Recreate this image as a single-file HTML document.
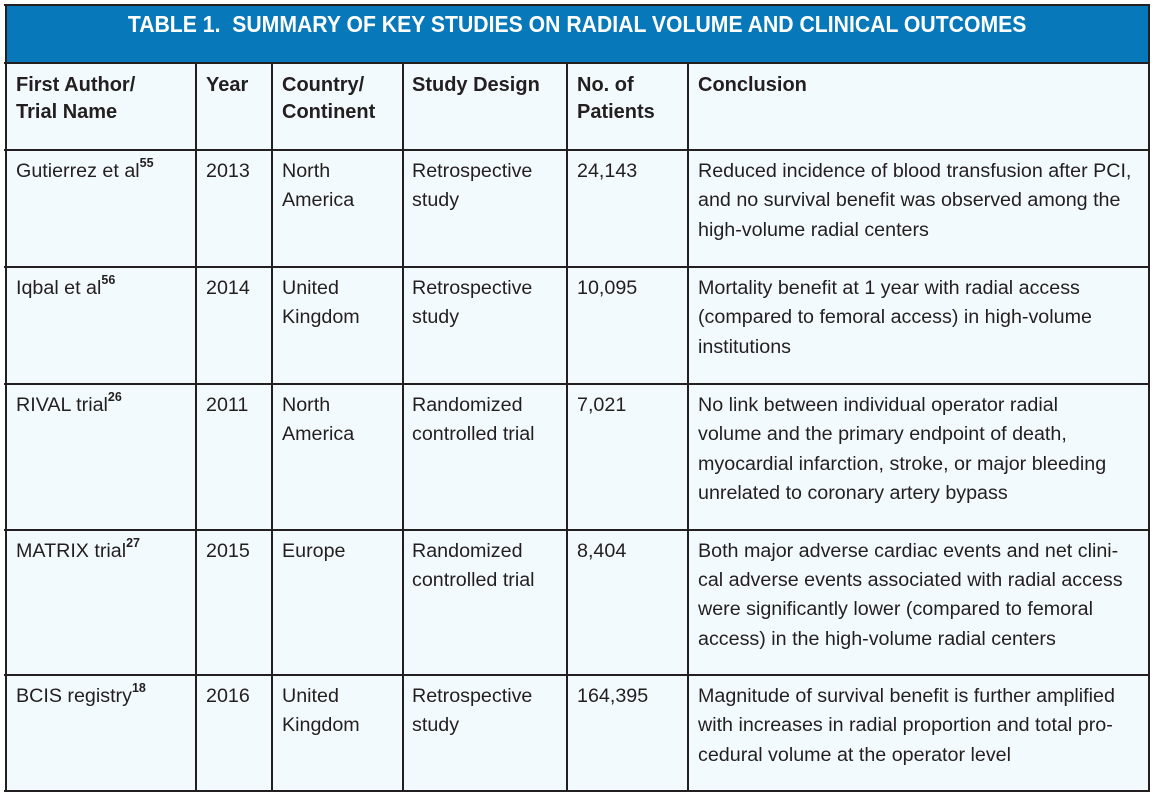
<!DOCTYPE html>
<html>
<head>
<meta charset="utf-8">
<style>
html,body{margin:0;padding:0;background:#fff;}
body{width:1156px;height:796px;position:relative;overflow:hidden;font-family:"Liberation Sans",Arial,sans-serif;color:#231F20;}
.bg{position:absolute;left:5px;top:4px;width:1144px;height:786px;background:#F3FAFD;}
.hdr{position:absolute;left:5px;top:4px;width:1144px;height:58px;background:#0778BA;}
.h{position:absolute;left:4px;width:1146px;height:1.5px;background:#231F20;}
.v{position:absolute;width:1.5px;background:#231F20;}
.title{position:absolute;left:5px;width:1144px;top:11px;text-align:center;color:#fff;font-weight:bold;font-size:23.5px;line-height:27px;white-space:nowrap;}
.title span{display:inline-block;transform:scaleX(0.902);transform-origin:center;}
.t{position:absolute;white-space:nowrap;font-size:19.7px;line-height:29.3px;}
.th{position:absolute;white-space:nowrap;font-size:20px;line-height:27.5px;font-weight:bold;top:71.5px;}
sup{font-size:12.5px;line-height:0;vertical-align:10px;font-weight:bold;}
</style>
</head>
<body>
<div class="bg"></div>
<div class="hdr"></div>
<div class="title"><span>TABLE 1.&nbsp; SUMMARY OF KEY STUDIES ON RADIAL VOLUME AND CLINICAL OUTCOMES</span></div>

<!-- horizontal lines -->
<div class="h" style="top:4px"></div>
<div class="h" style="top:62px"></div>
<div class="h" style="top:149px"></div>
<div class="h" style="top:266px"></div>
<div class="h" style="top:383px"></div>
<div class="h" style="top:529px"></div>
<div class="h" style="top:674px"></div>
<div class="h" style="top:790px"></div>

<!-- vertical lines -->
<div class="v" style="left:5px;top:4px;height:787px"></div>
<div class="v" style="left:195px;top:62px;height:729px"></div>
<div class="v" style="left:271px;top:62px;height:729px"></div>
<div class="v" style="left:402px;top:62px;height:729px"></div>
<div class="v" style="left:566px;top:62px;height:729px"></div>
<div class="v" style="left:687px;top:62px;height:729px"></div>
<div class="v" style="left:1148px;top:4px;height:787px"></div>

<!-- header row -->
<div class="th" style="left:16px">First Author/<br>Trial Name</div>
<div class="th" style="left:206px">Year</div>
<div class="th" style="left:282px">Country/<br>Continent</div>
<div class="th" style="left:412px">Study Design</div>
<div class="th" style="left:577px">No. of<br>Patients</div>
<div class="th" style="left:698px">Conclusion</div>

<!-- row 1 -->
<div class="t" style="left:16px;top:157px">Gutierrez et al<sup>55</sup></div>
<div class="t" style="left:206px;top:157px">2013</div>
<div class="t" style="left:282px;top:157px">North<br>America</div>
<div class="t" style="left:412px;top:157px">Retrospective<br>study</div>
<div class="t" style="left:577px;top:157px">24,143</div>
<div class="t" style="left:698px;top:157px">Reduced incidence of blood transfusion after PCI,<br>and no survival benefit was observed among the<br>high-volume radial centers</div>

<!-- row 2 -->
<div class="t" style="left:16px;top:274px">Iqbal et al<sup>56</sup></div>
<div class="t" style="left:206px;top:274px">2014</div>
<div class="t" style="left:282px;top:274px">United<br>Kingdom</div>
<div class="t" style="left:412px;top:274px">Retrospective<br>study</div>
<div class="t" style="left:577px;top:274px">10,095</div>
<div class="t" style="left:698px;top:274px">Mortality benefit at 1 year with radial access<br>(compared to femoral access) in high-volume<br>institutions</div>

<!-- row 3 -->
<div class="t" style="left:16px;top:391px">RIVAL trial<sup>26</sup></div>
<div class="t" style="left:206px;top:391px">2011</div>
<div class="t" style="left:282px;top:391px">North<br>America</div>
<div class="t" style="left:412px;top:391px">Randomized<br>controlled trial</div>
<div class="t" style="left:577px;top:391px">7,021</div>
<div class="t" style="left:698px;top:391px">No link between individual operator radial<br>volume and the primary endpoint of death,<br>myocardial infarction, stroke, or major bleeding<br>unrelated to coronary artery bypass</div>

<!-- row 4 -->
<div class="t" style="left:16px;top:536.8px">MATRIX trial<sup>27</sup></div>
<div class="t" style="left:206px;top:536.8px">2015</div>
<div class="t" style="left:282px;top:536.8px">Europe</div>
<div class="t" style="left:412px;top:536.8px">Randomized<br>controlled trial</div>
<div class="t" style="left:577px;top:536.8px">8,404</div>
<div class="t" style="left:698px;top:536.8px">Both major adverse cardiac events and net clini-<br>cal adverse events associated with radial access<br>were significantly lower (compared to femoral<br>access) in the high-volume radial centers</div>

<!-- row 5 -->
<div class="t" style="left:16px;top:682px">BCIS registry<sup>18</sup></div>
<div class="t" style="left:206px;top:682px">2016</div>
<div class="t" style="left:282px;top:682px">United<br>Kingdom</div>
<div class="t" style="left:412px;top:682px">Retrospective<br>study</div>
<div class="t" style="left:577px;top:682px">164,395</div>
<div class="t" style="left:698px;top:682px">Magnitude of survival benefit is further amplified<br>with increases in radial proportion and total pro-<br>cedural volume at the operator level</div>
</body>
</html>
